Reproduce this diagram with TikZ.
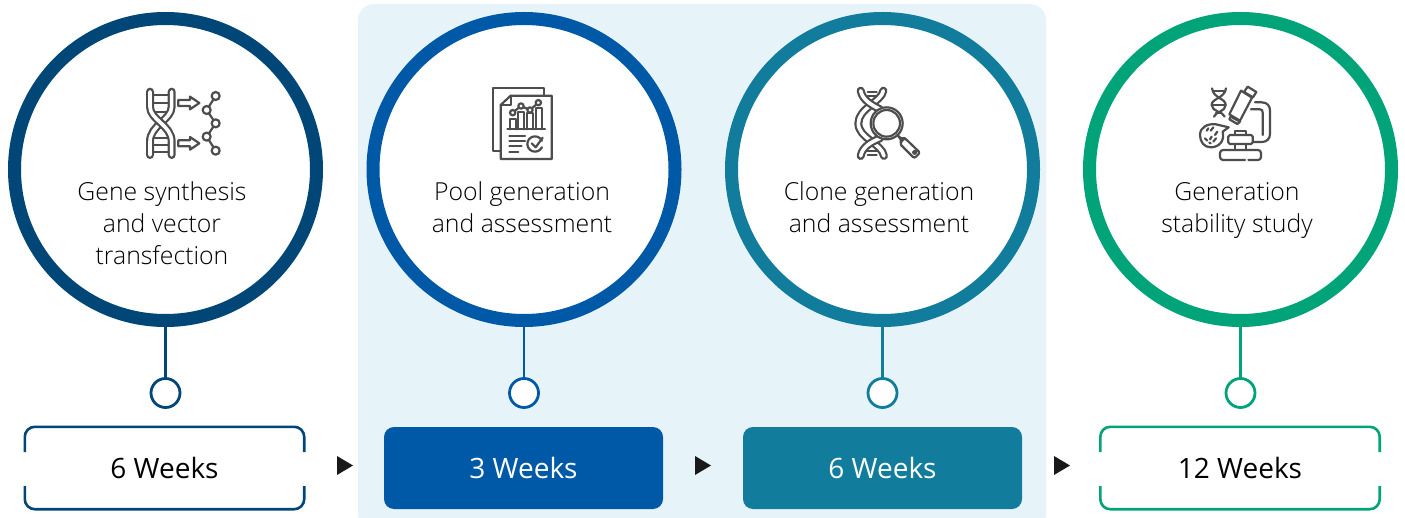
\documentclass[tikz,border=0pt]{standalone}
\usepackage{fontspec}
\setmainfont{Open Sans}
\newfontfamily\lightfont{Open Sans Light}
\usetikzlibrary{positioning}
\definecolor{navy}{HTML}{004677}
\definecolor{royal}{HTML}{0059A6}
\definecolor{teal2}{HTML}{117C9B}
\definecolor{jade}{HTML}{00A478}
\definecolor{panel}{HTML}{E6F4FA}
\definecolor{icongrey}{HTML}{4D4D4D}
\tikzset{
	ring/.style={circle, draw=#1, line width=13pt, fill=white, minimum size=302pt, inner sep=0pt},
	dot/.style={circle, draw=#1, line width=2.8pt, fill=white, minimum size=29pt, inner sep=0pt},
	stem/.style={draw=#1, line width=2.8pt},
	solidbox/.style={rectangle, rounded corners=10pt, fill=#1, text=white, minimum width=279pt, minimum height=82pt, font=\fontsize{28}{32}\selectfont},
	openbox/.style={rectangle, minimum width=279pt, minimum height=82pt, text=black, font=\fontsize{28}{32}\selectfont},
	caption/.style={align=center, text=black, font=\lightfont\fontsize{24.8}{32}\selectfont},
	nextstep/.style={fill=black!90, draw=none},
	ico/.style={draw=icongrey, line width=2.2pt, line join=round, line cap=round},
	tube/.style={ico, double=white, double distance=3.6pt},
	pics/geneicon/.style={code={
		\foreach \y in {75,100,125,205,225,245} \draw[ico] (98,\y) -- (148,\y);
		\draw[tube] (155,65) -- (155,110) .. controls (155,150) and (90,165) .. (90,215) -- (90,255);
		\draw[tube] (90,65) -- (90,110) .. controls (90,150) and (155,165) .. (155,215) -- (155,255);
		\foreach \y in {99,220} \draw[ico] (175,\y-9) -- (210,\y-9) -- (210,\y-19) -- (238,\y) -- (210,\y+19) -- (210,\y+9) -- (175,\y+9) -- cycle;
		\draw[ico] (287,78) -- (260,120) -- (287,160) -- (260,200) -- (287,242);
		\foreach \x/\y in {287/78,260/120,287/160,260/200,287/242} \draw[ico, fill=white] (\x,\y) circle (12);
	}},
	pics/poolicon/.style={code={
		\draw[ico] (222,75) -- (222,55) -- (70,55) -- (70,243) -- (92,243);
		\draw[ico] (122,77) -- (245,77) -- (245,267) -- (92,267) -- (92,105) -- cycle;
		\draw[ico] (122,77) -- (122,105) -- (92,105);
		\foreach \xa/\xb/\y in {120/138/148,145/163/125,172/190/130,197/215/115} \draw[ico] (\xa,178) -- (\xa,\y) -- (\xb,\y) -- (\xb,178);
		\draw[ico] (112,178) -- (225,178);
		\draw[ico] (128,128) -- (153,108) -- (180,120) -- (205,98);
		\foreach \x/\y in {128/128,153/108,180/120,205/98} \draw[ico, fill=white] (\x,\y) circle (8);
		\foreach \xb/\y in {165/197,165/212,155/229,145/245} \draw[ico] (118,\y) -- (\xb,\y);
		\draw[ico] (215.8,212.3) arc (-25:-335:23);
		\draw[ico] (185,220) -- (197,232) -- (218,203);
	}},
	pics/cloneicon/.style={code={
		\foreach \y in {65,78,242,255} \draw[ico] (113,\y) -- (140,\y);
		\draw[tube] (160,62) .. controls (155,95) and (85,115) .. (85,160) .. controls (85,205) and (155,220) .. (162,258);
		\draw[tube] (92,62) .. controls (97,90) and (125,105) .. (150,118);
		\draw[tube] (92,258) .. controls (97,230) and (125,215) .. (150,205);
		\draw[ico, fill=white] (170,160) circle (48);
		\draw[ico] (170,160) circle (40);
		\draw[ico, fill=white] (203,196) -- (213,205) -- (225,205) -- (212,218) -- (212,208) -- cycle;
		\draw[ico, fill=white, rounded corners=2pt] (224,204) -- (270,248) -- (253,265) -- (209,221) -- cycle;
		\draw[ico] (254,247) circle (5);
	}},
	pics/stabilityicon/.style={code={
		\draw[ico] (96,55) .. controls (100,85) and (137,85) .. (137,105) .. controls (137,125) and (105,125) .. (102,140);
		\draw[ico] (138,55) .. controls (134,85) and (95,85) .. (95,105) .. controls (95,125) and (130,125) .. (134,140);
		\foreach \y/\xa/\xb in {64/103/131,105/97/135,128/108/124} \draw[ico] (\xa,\y) -- (\xb,\y);
		\draw[ico] (60,195) .. controls (60,170) and (85,160) .. (108,163) -- (146,172) -- (128,185) .. controls (135,215) and (115,232) .. (92,232) .. controls (72,232) and (60,215) .. (60,195) -- cycle;
		\foreach \xa/\ya/\xb/\yb in {85/175/80/182,100/172/92/182,112/185/105/195,75/205/82/212,95/200/90/208,108/205/100/215,88/218/92/220} \draw[ico] (\xa,\ya) -- (\xb,\yb);
		\draw[ico] (183,62) -- (216,83) -- (180,152) -- (148,133) -- cycle;
		\draw[ico] (203,50) -- (229,66) -- (219,82) -- (192,66) -- cycle;
		\draw[ico] (152,140) -- (180,155) -- (172,162) -- (148,148) -- cycle;
		\draw[ico] (225,97) -- (245,97) .. controls (262,97) and (270,108) .. (270,122) -- (270,192) .. controls (270,207) and (260,216) .. (245,216) -- (218,216);
		\draw[ico] (213,118) -- (240,118) .. controls (246,118) and (248,122) .. (248,128) -- (248,195);
		\draw[ico, rounded corners=1.5pt] (145,195) rectangle (218,222);
		\draw[ico] (165,195) -- (165,183) -- (197,183) -- (197,195);
		\draw[ico] (165,222) -- (165,240); \draw[ico] (197,222) -- (197,240);
		\draw[ico, rounded corners=3pt] (195,270) -- (120,270) -- (120,240) -- (243,240) -- (243,270) -- (205,270);
	}}
}
\begin{document}
\begin{tikzpicture}[x=1pt, y=-1pt]
	\useasboundingbox (0,0) rectangle (1405,518);
	\fill[panel, rounded corners=16pt] (358,4) rectangle (1046,530);

	% circles
	\node[ring=navy] (gene) at (165.5,169.5) {};
	\node[ring=royal] (pool) at (524,169.5) {};
	\node[ring=teal2] (clone) at (882.5,169.5) {};
	\node[ring=jade] (stability) at (1240.5,169.5) {};

	% dots
	\node[dot=navy] (genedot) at (165.5,393) {};
	\node[dot=royal] (pooldot) at (524,393) {};
	\node[dot=teal2] (clonedot) at (882.5,393) {};
	\node[dot=jade] (stabilitydot) at (1240.5,393) {};

	\draw[stem=navy] (gene) -- (genedot);
	\draw[stem=royal] (pool) -- (pooldot);
	\draw[stem=teal2] (clone) -- (clonedot);
	\draw[stem=jade] (stability) -- (stabilitydot);

	% labels
	\node[caption] (genetext) at (162,223.5) {Gene synthesis\\and vector\\transfection};
	\node[caption] (pooltext) at (522,207.5) {Pool generation\\and assessment};
	\node[caption] (clonetext) at (879,207.5) {Clone generation\\and assessment};
	\node[caption] (stabilitytext) at (1237,210.5) {Generation\\stability study};

	% icons
	\pic[scale=1/3] at (120,70) {geneicon};
	\pic[scale=1/3] at (470,70) {poolicon};
	\pic[scale=1/3] at (830,70) {cloneicon};
	\pic[scale=1/3] at (1180,70) {stabilityicon};

	% week boxes
	\node[openbox] (geneweeks) at (164.5,468) {6 Weeks};
	\node[solidbox=royal] (poolweeks) at (523.5,468) {3 Weeks};
	\node[solidbox=teal2] (cloneweeks) at (882.5,468) {6 Weeks};
	\node[openbox] (stabilityweeks) at (1240,468) {12 Weeks};
	\draw[navy, line width=2.6pt, rounded corners=10pt]
		(geneweeks.west |- 0,452) -- (geneweeks.north west) -- (geneweeks.north east) -- (geneweeks.east |- 0,452)
		(geneweeks.west |- 0,486) -- (geneweeks.south west) -- (geneweeks.south east) -- (geneweeks.east |- 0,486);
	\draw[jade, line width=2.6pt, rounded corners=10pt]
		(stabilityweeks.west |- 0,452) -- (stabilityweeks.north west) -- (stabilityweeks.north east) -- (stabilityweeks.east |- 0,452)
		(stabilityweeks.west |- 0,486) -- (stabilityweeks.south west) -- (stabilityweeks.south east) -- (stabilityweeks.east |- 0,486);

	% arrowheads
	\foreach \x in {337,695,1054}
		\fill[nextstep] (\x,456) -- (\x+16,465.5) -- (\x,475) -- cycle;
\end{tikzpicture}
\end{document}
